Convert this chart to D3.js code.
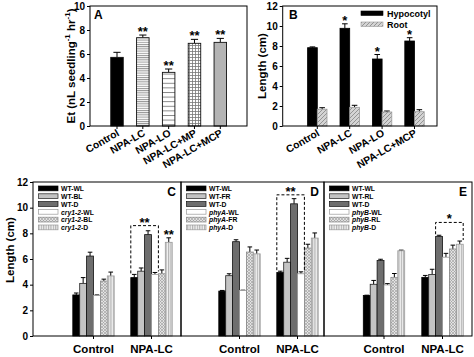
<!DOCTYPE html>
<html><head><meta charset="utf-8">
<script src="https://cdn.jsdelivr.net/npm/d3@7"></script>
<style>
body{margin:0;background:#fff;}
svg text{font-family:"Liberation Sans",Arial,sans-serif;font-weight:bold;fill:#000;}
</style></head><body>
<svg id="c" width="474" height="357"></svg>
<script>
// ---------- DATA ----------
const aCats = ["Control", "NPA-LC", "NPA-LO", "NPA-LC+MP", "NPA-LC+MCP"];
const aVals = [5.72, 7.36, 4.47, 6.89, 6.97];
const aErrs = [0.42, 0.22, 0.28, 0.33, 0.33];
const aSig = ["", "**", "**", "**", "**"];
const aTicks = [0, 2, 4, 6, 8, 10];

const bCats = ["Control", "NPA-LC", "NPA-LO", "NPA-LC+MCP"];
const bSeries = ["Hypocotyl", "Root"];
const bHyp = [7.83, 9.77, 6.7, 8.5];
const bHypErr = [0.08, 0.45, 0.45, 0.33];
const bRoot = [1.68, 1.87, 1.4, 1.43];
const bRootErr = [0.15, 0.2, 0.1, 0.2];
const bSig = ["", "*", "*", "*"];
const bTicks = [0, 2, 4, 6, 8, 10, 12];

const lowerCats = ["Control", "NPA-LC"];
const lowerTicks = [0, 2, 4, 6, 8, 10, 12];

const cSeries = ["WT-WL", "WT-BL", "WT-D", "cry1-2-WL", "cry1-2-BL", "cry1-2-D"];
const cVals = [[3.2, 4.1, 6.23, 3.15, 4.28, 4.68], [4.55, 5.05, 7.9, 4.8, 4.85, 7.3]];
const cErrs = [[0.15, 0.45, 0.3, 0.05, 0.15, 0.3], [0.25, 0.25, 0.3, 0.15, 0.3, 0.35]];

const dSeries = ["WT-WL", "WT-FR", "WT-D", "phyA-WL", "phyA-FR", "phyA-D"];
const dVals = [[3.5, 4.7, 7.35, 3.55, 6.54, 6.4], [4.95, 5.75, 10.3, 4.85, 6.85, 7.63]];
const dErrs = [[0.05, 0.15, 0.15, 0.02, 0.4, 0.3], [0.1, 0.3, 0.4, 0.15, 0.3, 0.4]];

const eSeries = ["WT-WL", "WT-RL", "WT-D", "phyB-WL", "phyB-RL", "phyB-D"];
const eVals = [[3.15, 4.03, 5.88, 3.98, 4.57, 6.64], [4.57, 4.8, 7.75, 6.14, 6.78, 7.15]];
const eErrs = [[0.03, 0.3, 0.1, 0.1, 0.3, 0.05], [0.15, 0.4, 0.1, 0.3, 0.3, 0.25]];

// significance brackets (in NPA-LC group)
const cBracket = {from: 0, to: 3, top: 8.6, mark: "**"};
const dBracket = {from: 0, to: 3, top: 11.0, mark: "**"};
const eBracket = {from: 2, to: 5, top: 8.85, mark: "*"};
const cExtraSig = {series: 5, mark: "**"};

// ---------- SETUP ----------
const svg = d3.select("#c");
svg.append("rect").attr("width", 474).attr("height", 357).attr("fill", "#fff");
const defs = svg.append("defs");
function pat(id, w, h, bg, draw) {
  const p = defs.append("pattern").attr("id", id).attr("patternUnits", "userSpaceOnUse")
    .attr("width", w).attr("height", h);
  p.append("rect").attr("width", w).attr("height", h).attr("fill", bg);
  draw(p);
}
pat("hdense", 4, 2.2, "#fff", p => p.append("line").attr("x1", 0).attr("x2", 4).attr("y1", 0.5).attr("y2", 0.5).attr("stroke", "#8a8a8a").attr("stroke-width", 0.9));
pat("hsparse", 4, 4.6, "#fff", p => p.append("line").attr("x1", 0).attr("x2", 4).attr("y1", 0.5).attr("y2", 0.5).attr("stroke", "#777").attr("stroke-width", 0.9));
pat("grid", 3, 3, "#fff", p => { p.append("path").attr("d", "M0,0.5H3M0.5,0V3").attr("stroke", "#777").attr("stroke-width", 0.8); });
pat("diag", 4, 4, "#d4d4d4", p => p.append("path").attr("d", "M-1,1L1,-1M0,4L4,0M3,5L5,3").attr("stroke", "#8c8c8c").attr("stroke-width", 0.9));
pat("xhatch", 3, 3, "#e2e2e2", p => p.append("path").attr("d", "M0,0L3,3M3,0L0,3").attr("stroke", "#9a9a9a").attr("stroke-width", 0.6));
pat("vstripe", 2.4, 4, "#f2f2f2", p => p.append("line").attr("x1", 0.6).attr("x2", 0.6).attr("y1", 0).attr("y2", 4).attr("stroke", "#a8a8a8").attr("stroke-width", 1));

function styleAxis(g, fs) {
  g.select(".domain").remove();
  g.selectAll(".tick line").attr("stroke", "#000");
  g.selectAll(".tick text").attr("font-size", fs).attr("font-weight", "bold").attr("fill", "#000");
}
function frame(x0, x1, y0, y1) {
  svg.append("rect").attr("x", x0).attr("y", y0).attr("width", x1 - x0).attr("height", y1 - y0)
    .attr("fill", "none").attr("stroke", "#000").attr("stroke-width", 1);
}
function errBar(cx, yTop, yErr, half) {
  svg.append("line").attr("x1", cx).attr("x2", cx).attr("y1", yTop).attr("y2", yErr).attr("stroke", "#000").attr("stroke-width", 1);
  svg.append("line").attr("x1", cx - half).attr("x2", cx + half).attr("y1", yErr).attr("y2", yErr).attr("stroke", "#000").attr("stroke-width", 1);
}
function star(cx, y, mark, fs) {
  svg.append("text").attr("x", cx).attr("y", y).attr("text-anchor", "middle").attr("font-size", fs).text(mark);
}

// ---------- PANEL A ----------
{
  const x = d3.scaleLinear().domain([0, aCats.length - 1]).range([117, 220.3]);
  const y = d3.scaleLinear().domain([0, 10]).range([126, 6]);
  const bw = 12.5;
  const fills = ["#000", "url(#hdense)", "url(#hsparse)", "url(#grid)", "#b4b4b4"];
  aVals.forEach((v, i) => {
    errBar(x(i), y(v), y(v + aErrs[i]), 3.6);
    svg.append("rect").attr("x", x(i) - bw / 2).attr("y", y(v)).attr("width", bw).attr("height", y(0) - y(v))
      .attr("fill", fills[i]).attr("stroke", "#111").attr("stroke-width", 0.9);
    if (aSig[i]) star(x(i), y(v + aErrs[i]) + 1, aSig[i], 13);
    svg.append("line").attr("x1", x(i)).attr("x2", x(i)).attr("y1", 126).attr("y2", 129).attr("stroke", "#000");
    svg.append("text").attr("text-anchor", "end").attr("font-size", 10.3)
      .attr("transform", `translate(${x(i) + 3},${135}) rotate(-30)`).text(aCats[i]);
  });
  frame(90, 247, 6, 126);
  svg.append("g").attr("transform", "translate(90,0)").call(d3.axisLeft(y).tickValues(aTicks).tickSize(3).tickPadding(2)).call(g => styleAxis(g, 10));
  svg.append("text").attr("x", 94).attr("y", 19).attr("font-size", 12).text("A");
  const lab = svg.append("text").attr("text-anchor", "middle").attr("font-size", 11.5)
    .attr("transform", "translate(75,66) rotate(-90)");
  lab.append("tspan").text("Et (nL seedling");
  lab.append("tspan").attr("dy", -5).attr("font-size", 8).text("-1");
  lab.append("tspan").attr("dy", 5).text(" hr");
  lab.append("tspan").attr("dy", -5).attr("font-size", 8).text("-1");
  lab.append("tspan").attr("dy", 5).text(")");
}

// ---------- PANEL B ----------
{
  const x = d3.scaleLinear().domain([0, bCats.length - 1]).range([317.3, 414.5]);
  const y = d3.scaleLinear().domain([0, 12]).range([126, 6]);
  const sub = d3.scaleBand().domain(bSeries).range([-9.7, 9.7]);
  const fills = {Hypocotyl: "#000", Root: "url(#diag)"};
  const vals = {Hypocotyl: bHyp, Root: bRoot};
  const errs = {Hypocotyl: bHypErr, Root: bRootErr};
  bCats.forEach((c, i) => {
    bSeries.forEach(s => {
      const v = vals[s][i], e = errs[s][i];
      const bx = x(i) + sub(s), bw = sub.bandwidth();
      errBar(bx + bw / 2, y(v), y(v + e), 2.8);
      svg.append("rect").attr("x", bx).attr("y", y(v)).attr("width", bw).attr("height", y(0) - y(v))
        .attr("fill", fills[s]).attr("stroke", s === "Root" ? "#999" : "#000").attr("stroke-width", 0.8);
    });
    if (bSig[i]) star(x(i) + sub("Hypocotyl") + sub.bandwidth() / 2, y(bHyp[i] + bHypErr[i]) + 1, bSig[i], 13);
    svg.append("line").attr("x1", x(i)).attr("x2", x(i)).attr("y1", 126).attr("y2", 129).attr("stroke", "#000");
    svg.append("text").attr("text-anchor", "end").attr("font-size", 10.3)
      .attr("transform", `translate(${x(i) + 3},${135}) rotate(-30)`).text(c);
  });
  frame(282.7, 437, 6, 126);
  svg.append("g").attr("transform", "translate(282.7,0)").call(d3.axisLeft(y).tickValues(bTicks).tickSize(3).tickPadding(2)).call(g => styleAxis(g, 10));
  svg.append("text").attr("x", 289).attr("y", 19).attr("font-size", 12).text("B");
  svg.append("text").attr("text-anchor", "middle").attr("font-size", 11.5)
    .attr("transform", "translate(266,66) rotate(-90)").text("Length (cm)");
  bSeries.forEach((s, k) => {
    svg.append("rect").attr("x", 361).attr("y", 11 + k * 11).attr("width", 22).attr("height", 4.5)
      .attr("fill", fills[s]).attr("stroke", s === "Root" ? "#999" : "#000").attr("stroke-width", 0.6);
    svg.append("text").attr("x", 387).attr("y", 16.8 + k * 11).attr("font-size", 9).text(s);
  });
}

// ---------- LOWER PANELS ----------
const ly = d3.scaleLinear().domain([0, 12]).range([336, 182]);
const lFills = ["#000", "#c4c4c4", "#6e6e6e", "#fff", "url(#xhatch)", "url(#vstripe)"];
const lStrokes = ["#000", "#222", "#111", "#999", "#888", "#999"];

function lowerPanel(opt) {
  const {x0, x1, centers, series, vals, errs, letter, bracket} = opt;
  const gx = d3.scalePoint().domain(lowerCats).range(centers);
  const sub = d3.scaleBand().domain(d3.range(series.length)).range([-20.7, 20.7]);
  const bw = sub.bandwidth();
  lowerCats.forEach((c, gi) => {
    series.forEach((s, si) => {
      const v = vals[gi][si], e = errs[gi][si];
      const bx = gx(c) + sub(si);
      errBar(bx + bw / 2, ly(v), ly(v + e), 2.3);
      svg.append("rect").attr("x", bx).attr("y", ly(v)).attr("width", bw).attr("height", ly(0) - ly(v))
        .attr("fill", lFills[si]).attr("stroke", lStrokes[si]).attr("stroke-width", 0.8);
    });
    svg.append("line").attr("x1", gx(c)).attr("x2", gx(c)).attr("y1", 336).attr("y2", 339).attr("stroke", "#000");
    svg.append("text").attr("x", gx(c)).attr("y", 353).attr("text-anchor", "middle").attr("font-size", 11.5).text(c);
  });
  // bracket
  const gc = gx(lowerCats[1]);
  const bl = gc + sub(bracket.from), br = gc + sub(bracket.to) + bw;
  const topL = ly(vals[1][bracket.from] + errs[1][bracket.from]) - 1;
  const topR = ly(vals[1][bracket.to] + errs[1][bracket.to]) - 1;
  svg.append("path").attr("d", `M${bl},${topL}V${ly(bracket.top)}H${br}V${topR}`)
    .attr("fill", "none").attr("stroke", "#000").attr("stroke-width", 1).attr("stroke-dasharray", "3,2");
  star((bl + br) / 2, ly(bracket.top) + 1, bracket.mark, 13);
  if (opt.extra) {
    const si = opt.extra.series;
    star(gc + sub(si) + bw / 2, ly(vals[1][si] + errs[1][si]) + 1, opt.extra.mark, 13);
  }
  frame(x0, x1, 182, 336);
  svg.append("text").attr("x", x1 - 5).attr("y", 196).attr("text-anchor", "end").attr("font-size", 12).text(letter);
  // legend
  series.forEach((s, si) => {
    const ry = 186 + si * 7.8;
    svg.append("rect").attr("x", x0 + 5.5).attr("y", ry).attr("width", 19.5).attr("height", 4.8)
      .attr("fill", lFills[si]).attr("stroke", lStrokes[si]).attr("stroke-width", 0.7);
    const t = svg.append("text").attr("x", x0 + 28).attr("y", ry + 5.2).attr("font-size", 6.8);
    const m = s.match(/^(cry1-2|phyA|phyB)(-.*)$/);
    if (m) {
      t.append("tspan").attr("font-style", "italic").text(m[1]);
      t.append("tspan").text(m[2]);
    } else t.text(s);
  });
}

lowerPanel({x0: 33, x1: 181, centers: [93.5, 151.5], series: cSeries, vals: cVals, errs: cErrs, letter: "C", bracket: cBracket, extra: cExtraSig});
lowerPanel({x0: 181, x1: 324, centers: [239.5, 297.5], series: dSeries, vals: dVals, errs: dErrs, letter: "D", bracket: dBracket});
lowerPanel({x0: 324, x1: 472, centers: [384, 442.5], series: eSeries, vals: eVals, errs: eErrs, letter: "E", bracket: eBracket});

svg.append("g").attr("transform", "translate(33,0)").call(d3.axisLeft(ly).tickValues(lowerTicks).tickSize(3).tickPadding(2)).call(g => styleAxis(g, 10));
svg.append("text").attr("text-anchor", "middle").attr("font-size", 11.5)
  .attr("transform", "translate(14,250) rotate(-90)").text("Length (cm)");
</script></body></html>
